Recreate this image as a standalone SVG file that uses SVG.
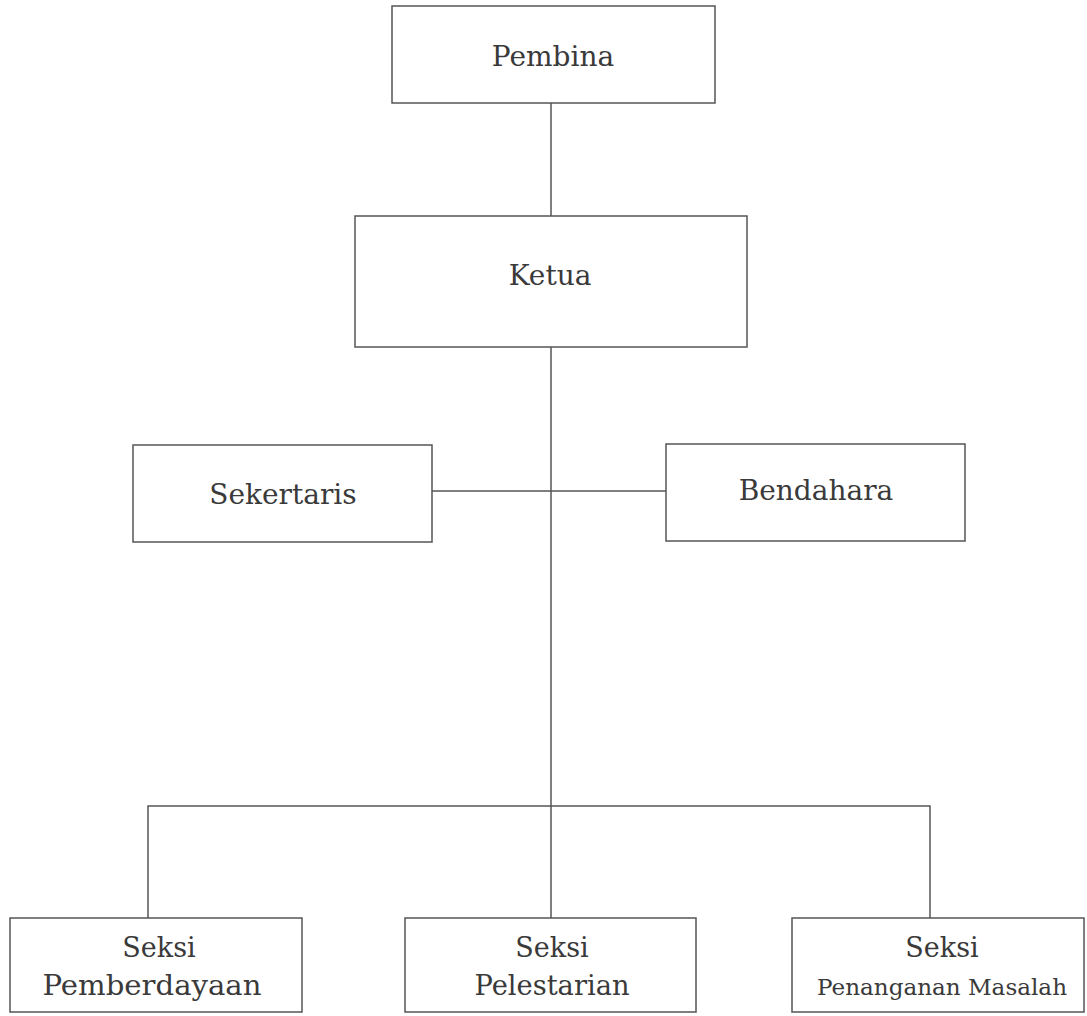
<svg xmlns="http://www.w3.org/2000/svg" width="1087" height="1016" viewBox="0 0 1087 1016">
  <style>
    .box { fill: #fff; stroke: #555; stroke-width: 1.5; }
    .line { stroke: #555; stroke-width: 1.5; fill: none; }
    .label { font-family: "DejaVu Serif", "Liberation Serif", serif; font-size: 28px; fill: #3a3a3a; text-anchor: middle; }
    .sub { font-size: 27px; }
    .small { font-size: 22px; }
  </style>
  <rect width="1087" height="1016" fill="#fff"/>

  <!-- connectors -->
  <g id="connectors">
    <line class="line" x1="551" y1="103" x2="551" y2="216"/>
    <line class="line" x1="551" y1="347" x2="551" y2="918"/>
    <line class="line" x1="432" y1="491" x2="666" y2="491"/>
    <polyline class="line" points="148,918 148,806 930,806 930,918"/>
  </g>

  <g id="pembina">
    <rect class="box" x="392" y="6" width="323" height="97"/>
    <text class="label" x="553" y="66">Pembina</text>
  </g>

  <g id="ketua">
    <rect class="box" x="355" y="216" width="392" height="131"/>
    <text class="label" x="550" y="285">Ketua</text>
  </g>

  <g id="sekertaris">
    <rect class="box" x="133" y="445" width="299" height="97"/>
    <text class="label" x="283" y="504">Sekertaris</text>
  </g>

  <g id="bendahara">
    <rect class="box" x="666" y="444" width="299" height="97"/>
    <text class="label" x="816" y="500">Bendahara</text>
  </g>

  <g id="seksi-pemberdayaan">
    <rect class="box" x="10" y="918" width="292" height="94"/>
    <text class="label sub" x="159" y="957">Seksi</text>
    <text class="label sub" x="152" y="995" textLength="219" lengthAdjust="spacingAndGlyphs">Pemberdayaan</text>
  </g>

  <g id="seksi-pelestarian">
    <rect class="box" x="405" y="918" width="291" height="94"/>
    <text class="label sub" x="552" y="957">Seksi</text>
    <text class="label sub" x="552" y="995" textLength="155" lengthAdjust="spacingAndGlyphs">Pelestarian</text>
  </g>

  <g id="seksi-penanganan-masalah">
    <rect class="box" x="792" y="918" width="292" height="94"/>
    <text class="label sub" x="942" y="957">Seksi</text>
    <text class="label small" x="942" y="995" textLength="250" lengthAdjust="spacingAndGlyphs">Penanganan Masalah</text>
  </g>
</svg>
